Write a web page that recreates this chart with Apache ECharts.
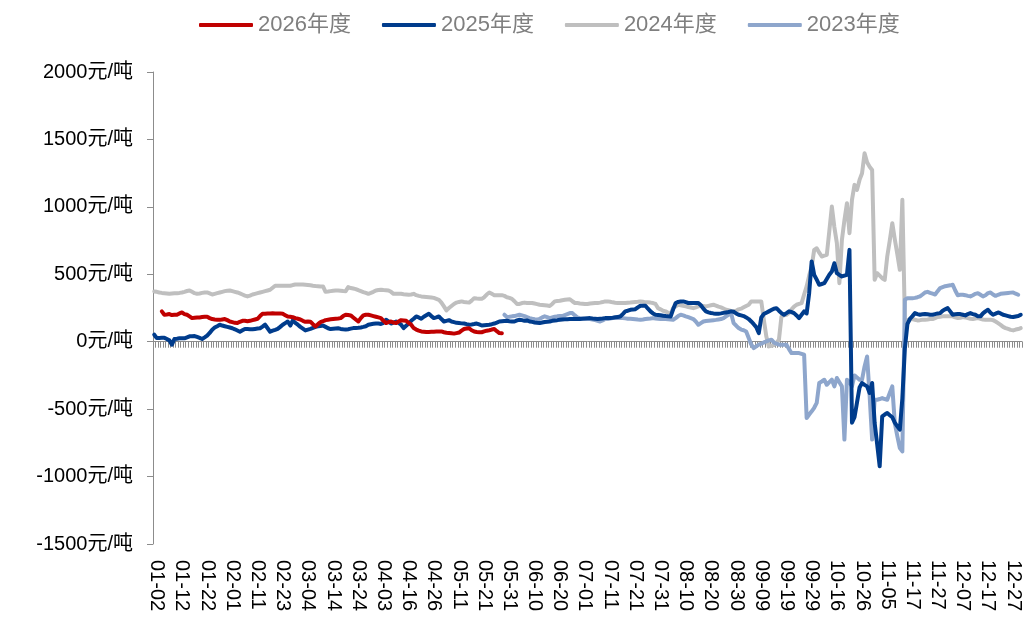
<!DOCTYPE html>
<html>
<head>
<meta charset="utf-8">
<script src="https://cdn.jsdelivr.net/npm/echarts@6/dist/echarts.min.js"></script>
<style>html,body{margin:0;padding:0;background:#fff}#c{width:1024px;height:619px}</style>
</head>
<body>
<div id="c"></div>
<script>
// ---- categories (MM-DD, calendar days that have data) ----
const skipDates = ['02-16','02-17','04-04','04-05','04-06','05-01','05-02','05-03','05-04','05-05','06-23','10-01','10-02','10-03','10-04','10-05','10-06','10-07','11-10','11-11'];
const daysInMonth = [31,29,31,30,31,30,31,31,30,31,30,31];
const lastDate = '12-30';
const categories = [];
for (let m = 1; m <= 12; m++) {
  for (let d = 1; d <= daysInMonth[m - 1]; d++) {
    const s = String(m).padStart(2, '0') + '-' + String(d).padStart(2, '0');
    if (skipDates.indexOf(s) >= 0 || s > lastDate) continue;
    categories.push(s);
  }
}
const yTicks = [-1500, -1000, -500, 0, 500, 1000, 1500, 2000];
const seriesNames = ['2026年度', '2025年度', '2024年度', '2023年度'];

// ---- series values (元/吨) ----
const y2026 = [
null,null,null,225,200,202,205,198,200,200,
210,217,205,200,188,175,178,180,180,183,
185,185,175,168,165,163,162,165,168,160,
150,145,140,138,148,155,155,152,155,160,
165,170,190,207,208,210,210,211,210,210,
210,207,197,187,185,182,175,170,165,155,
148,150,148,130,113,130,145,152,160,163,
166,168,170,172,175,190,200,198,195,180,
165,150,175,195,200,200,195,190,185,180,
175,155,138,145,150,142,138,150,160,158,
155,140,126,101,90,82,76,74,72,72,
73,74,75,76,76,70,66,64,62,60,
64,68,82,94,98,100,85,76,72,70,
70,76,82,85,90,94,78,64,62
];
const y2025 = [
52,27,28,29,30,20,10,-22,20,22,
25,25,25,32,40,41,42,35,28,20,
32,45,65,89,105,115,126,120,115,110,
105,100,92,83,74,85,95,94,93,92,
95,98,100,112,126,100,74,82,88,95,
110,126,138,150,120,158,140,126,110,97,
84,90,95,102,110,114,117,120,110,100,
94,96,98,100,95,92,90,93,97,101,
101,103,106,110,115,126,130,133,135,135,
132,140,163,150,135,142,150,140,126,101,
118,135,155,170,187,180,170,185,196,207,
190,175,180,187,168,150,155,160,150,145,
140,138,136,135,130,126,128,131,135,128,
120,122,124,126,130,135,142,150,152,154,
155,152,150,150,158,163,160,155,158,150,
147,143,140,138,142,146,148,150,155,158,
160,163,165,166,167,168,168,168,168,168,
170,172,174,175,172,170,168,170,172,175,
175,176,178,181,184,187,205,225,230,237,
238,241,255,267,267,267,245,225,210,200,
198,196,193,190,188,187,240,287,295,299,
299,293,287,287,287,287,287,270,245,225,
218,213,210,208,207,210,214,217,220,225,
222,210,200,195,190,180,168,150,130,108,
64,180,205,215,225,235,245,249,230,212,
200,212,225,220,212,195,175,200,225,210,
360,595,496,460,422,428,434,465,496,520,
582,508,495,484,490,496,681,-600,-560,-450,
-340,-306,-320,-331,-380,-306,-603,-760,-924,-553,
-540,-529,-545,-560,-600,-627,-652,-420,-50,130,
170,190,212,205,200,203,205,203,200,200,
205,210,212,230,240,249,225,200,203,205,
205,200,195,205,212,205,200,188,188,210,
225,237,215,200,208,217,210,200,195,190,
185,183,187,190,200
];
const y2024 = [
373,370,365,362,360,358,355,357,359,360,
362,365,370,376,380,370,360,355,358,362,
365,365,358,350,355,360,365,370,375,378,
380,375,370,365,358,350,342,336,342,350,
355,360,365,370,375,380,385,400,415,415,
415,415,415,415,415,420,424,424,424,424,
422,420,418,415,413,412,410,410,370,372,
375,378,380,380,378,376,375,405,398,394,
390,382,375,368,362,355,362,370,380,383,
385,383,382,380,370,355,355,355,355,352,
350,348,350,355,345,340,336,334,332,330,
328,325,318,311,290,262,232,250,265,280,
290,295,299,295,292,290,305,323,320,319,
318,330,350,365,355,345,345,345,345,340,
330,325,318,300,280,280,287,290,287,287,
287,283,279,274,272,270,268,265,280,299,
302,304,308,311,313,315,300,287,287,284,
282,280,280,283,285,287,287,290,294,299,
299,296,292,289,287,287,287,287,289,290,
292,294,296,299,296,292,292,290,287,280,
249,240,230,225,215,207,249,262,274,270,
266,262,258,254,249,255,262,266,264,262,
266,270,274,268,260,255,246,237,233,229,
225,230,240,245,255,265,274,299,298,298,
298,298,163,39,-35,-30,-25,-10,15,187,
195,200,212,240,260,274,280,286,350,410,
490,558,681,693,660,632,638,644,820,1002,
850,731,434,755,900,1027,805,1052,1163,1126,
1200,1249,1397,1330,1298,1274,459,508,490,471,
459,632,750,879,760,650,533,1052,160,160,
165,168,163,158,160,163,163,165,168,168,
175,183,185,188,188,188,188,188,180,175,
178,183,180,175,170,168,172,175,170,165,
163,163,163,160,150,138,125,110,101,95,
88,84,90,94,101
];
const start2023 = 139;
const v2023 = [
200,
183,185,188,190,195,200,195,190,182,175,
170,166,163,170,180,188,182,175,180,185,
188,190,190,198,205,212,212,195,180,175,
173,171,169,168,164,160,155,150,158,168,
168,172,175,175,175,175,175,173,171,170,
168,166,164,163,165,168,170,172,175,172,
170,168,168,168,166,165,163,175,190,200,
195,188,182,175,168,150,126,138,150,154,
156,158,160,162,165,168,175,188,200,212,
138,120,101,90,85,76,27,-20,-47,-35,
-22,-15,-5,2,10,15,-5,-15,-22,-22,
-22,-22,-55,-84,-84,-84,-84,-90,-96,-566,
-540,-516,-490,-454,-306,-295,-282,-319,-300,-282,
-331,-269,-300,-331,-726,-282,-300,-330,-250,-265,
-282,-282,-183,-109,-400,-726,-430,-430,-425,-418,
-425,-430,-380,-331,-603,-700,-788,-813,311,323,
323,323,325,330,336,350,365,370,362,356,
350,375,398,405,412,415,418,422,380,345,
348,348,345,340,336,345,355,360,348,336,
345,360,365,350,340,348,355,358,360,362,
364,365,356,348
];
const y2023 = new Array(start2023).fill(null).concat(v2023);

const colors = {'2026年度':'#C00000','2025年度':'#003C8C','2024年度':'#BFBFBF','2023年度':'#8EA6CC'};
const dataMap = {'2026年度':y2026,'2025年度':y2025,'2024年度':y2024,'2023年度':y2023};
const drawOrder = ['2024年度','2023年度','2025年度','2026年度'];
const FONT = '"Liberation Sans", Arial, "Noto Sans CJK SC", sans-serif';

const chart = echarts.init(document.getElementById('c'));
chart.setOption({
  animation: false,
  backgroundColor: '#ffffff',
  textStyle: {fontFamily: FONT},
  legend: {
    data: seriesNames,
    left: 194, top: 9,
    icon: 'roundRect',
    itemWidth: 54, itemHeight: 4, itemGap: 31,
    textStyle: {fontSize: 22, color: '#7F7F7F', fontFamily: FONT}
  },
  grid: {left: 153, right: 2, top: 72, bottom: 75, containLabel: false},
  xAxis: [{
    type: 'category', data: categories, boundaryGap: true,
    axisLine: {onZero: true, lineStyle: {color: '#8C8C8C', width: 1}},
    axisTick: {show: true, interval: 0, length: 6, lineStyle: {color: '#8C8C8C', width: 1}},
    axisLabel: {show: false}, splitLine: {show: false}
  }, {
    type: 'category', data: categories, boundaryGap: true, position: 'bottom',
    axisLine: {show: false, onZero: false}, axisTick: {show: false},
    axisLabel: {show: true, rotate: -90, margin: 16, fontSize: 20, color: '#000',
      interval: function (idx) { return (idx - 1) % 10 === 0; }},
    splitLine: {show: false}
  }],
  yAxis: {
    type: 'value', min: yTicks[0], max: yTicks[yTicks.length - 1], interval: 500,
    axisLine: {show: true, lineStyle: {color: '#8C8C8C'}},
    axisTick: {show: true, length: 6, lineStyle: {color: '#8C8C8C'}},
    axisLabel: {margin: 20, fontSize: 20, color: '#000', formatter: function (v) { return v + '元/吨'; }},
    splitLine: {show: false}
  },
  series: drawOrder.map(function (n) {
    return {
      name: n, type: 'line', xAxisIndex: 0, data: dataMap[n],
      showSymbol: false, symbol: 'none', connectNulls: false,
      lineStyle: {color: colors[n], width: 4, cap: 'round', join: 'round'},
      itemStyle: {color: colors[n]}
    };
  })
});
</script>
</body>
</html>
